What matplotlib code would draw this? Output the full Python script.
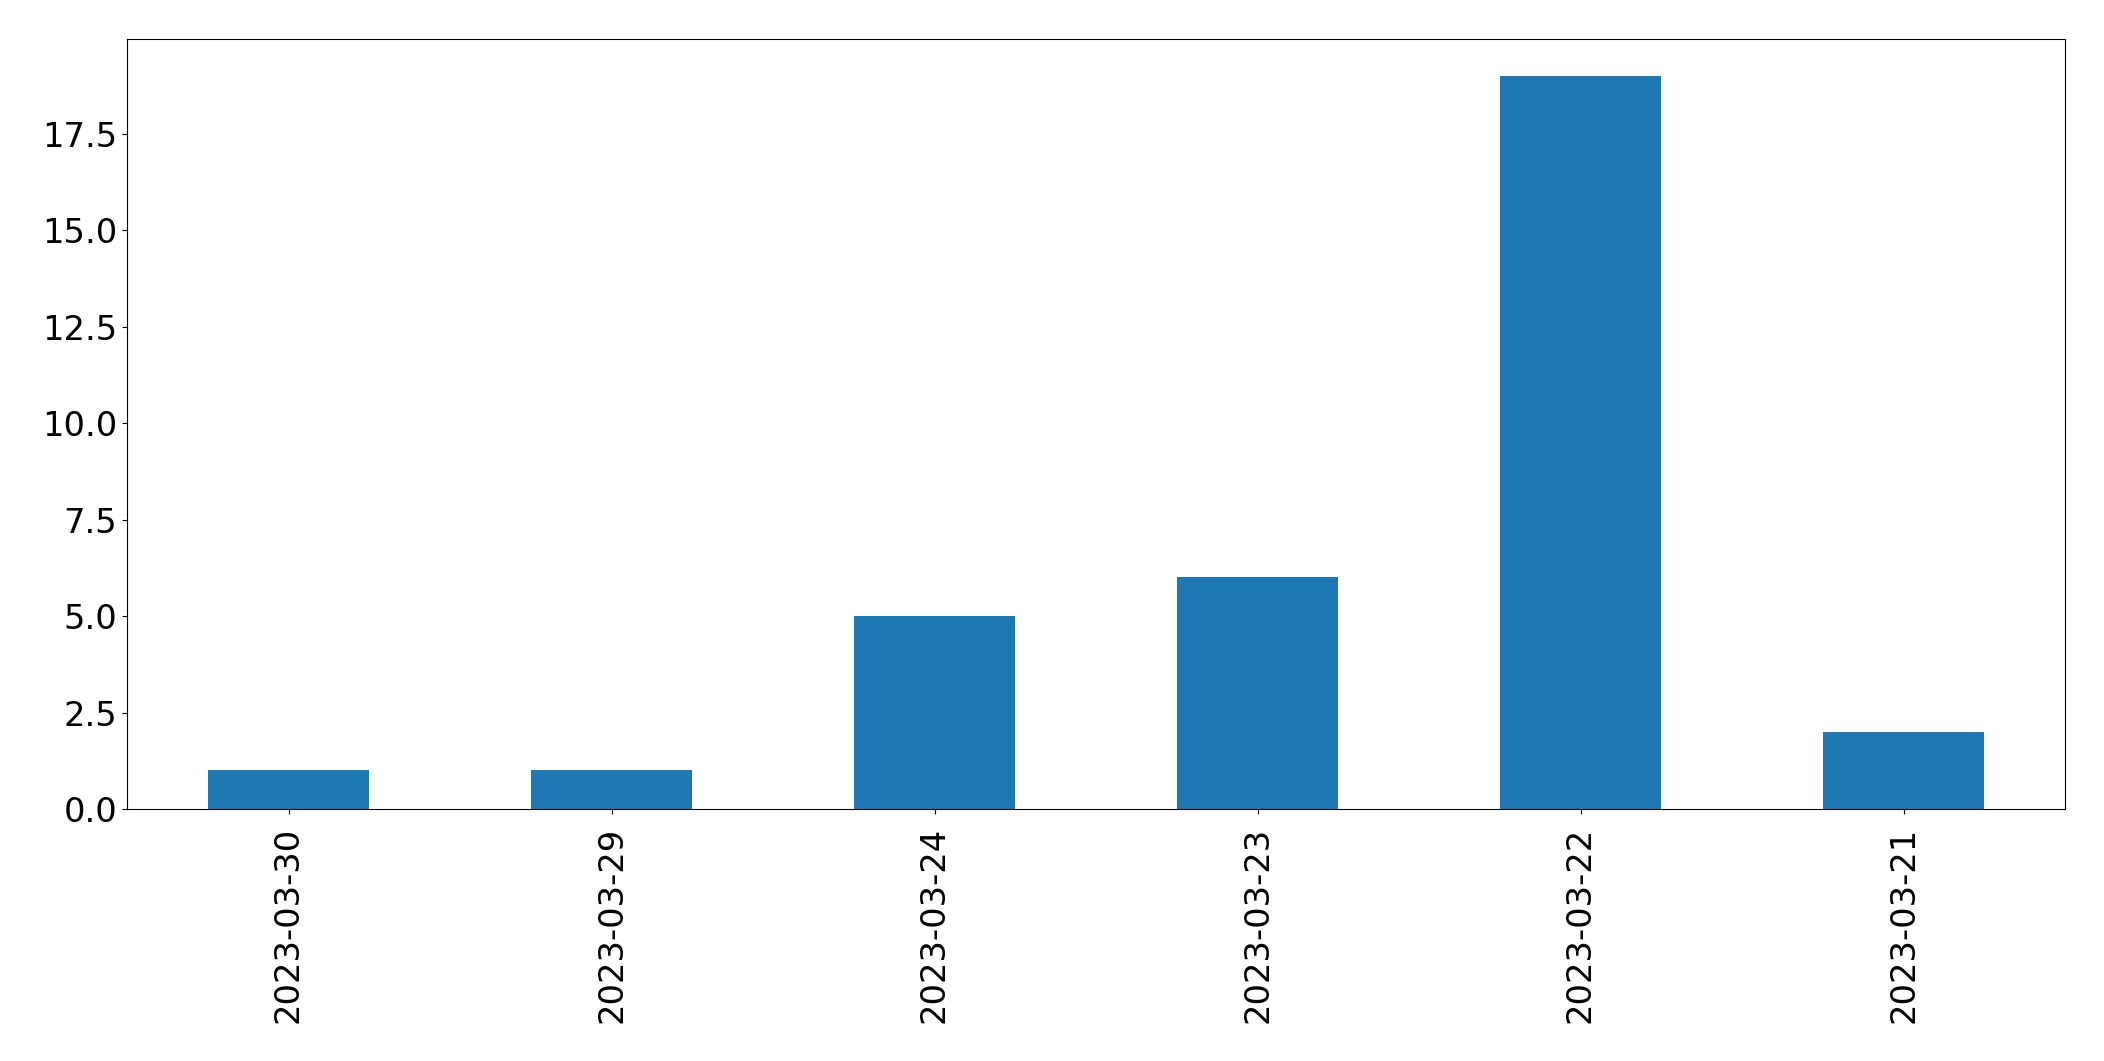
import matplotlib
matplotlib.use("Agg")
import matplotlib.pyplot as plt
import numpy as np

dates = ["2023-03-30", "2023-03-29", "2023-03-24", "2023-03-23", "2023-03-22", "2023-03-21"]
counts = [1, 1, 5, 6, 19, 2]

fig = plt.figure(figsize=(21.04, 10.61), dpi=100)
ax = fig.add_axes([127 / 2104, 1 - 809 / 1061, (2065 - 127) / 2104, (809 - 39) / 1061])
x = np.arange(len(dates))
ax.bar(x, counts, width=0.5, color="#1f77b4")
ax.set_xlim(-0.5, len(dates) - 0.5)
ax.set_xticks(x)
ax.set_xticklabels(dates, rotation=90)
ax.tick_params(labelsize=24.3)
ax.tick_params(axis="x", pad=9)
fig.savefig("out.png", dpi=100)
